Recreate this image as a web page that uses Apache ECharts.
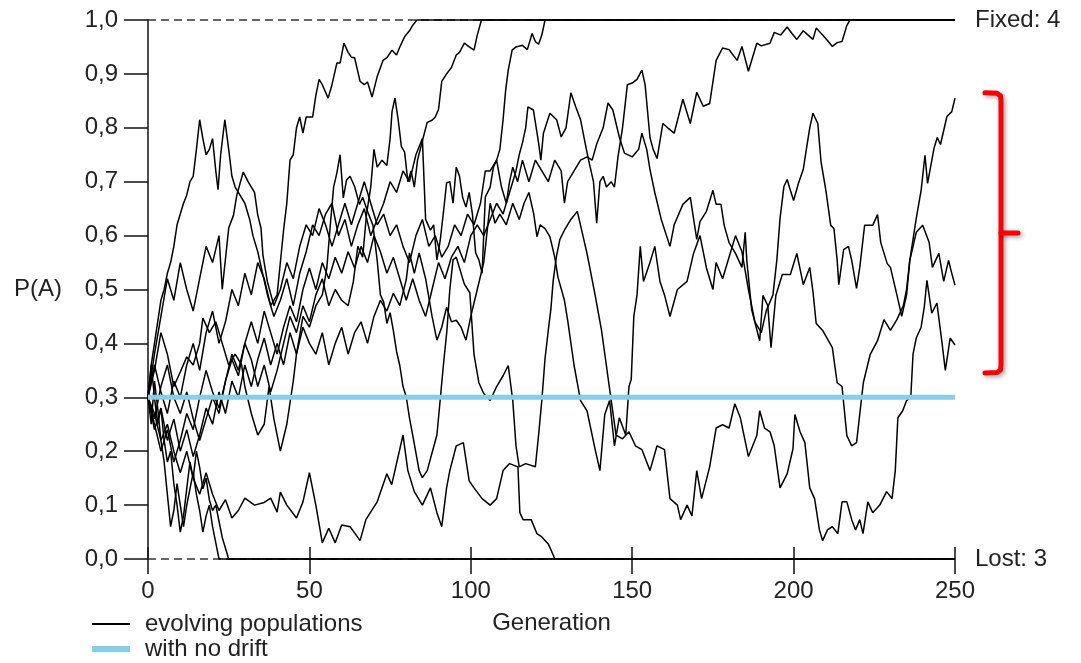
<!DOCTYPE html>
<html><head><meta charset="utf-8">
<script src="https://cdn.jsdelivr.net/npm/echarts@6/dist/echarts.min.js"></script>
<style>html,body{margin:0;padding:0;background:#fff}#c{width:1081px;height:663px}</style>
</head><body><div id="c"></div>
<script>
// ---- data: [generation, P(A)] ----
const popFixed1 = [[0,0.30],[2,0.36],[4,0.31],[6,0.27],[8,0.33],[10,0.30],[12,0.36],[14,0.40],[16,0.35],[18,0.42],[20,0.46],[22,0.40],[24,0.44],[26,0.50],[28,0.47],[30,0.53],[32,0.49],[34,0.55],[36,0.52],[38,0.47],[40,0.49],[41,0.55],[42,0.61],[43,0.66],[44,0.74],[45,0.75],[46,0.80],[47,0.82],[48,0.79],[49,0.82],[51,0.82],[52,0.86],[53,0.89],[54,0.88],[55.8,0.855],[57,0.88],[58.5,0.92],[59.5,0.92],[60.7,0.957],[62,0.94],[63,0.931],[64,0.93],[65.7,0.886],[67,0.88],[68,0.885],[69.4,0.857],[71,0.895],[72.8,0.925],[74,0.93],[75.6,0.944],[77,0.935],[78,0.95],[79.6,0.970],[81,0.98],[82,0.99],[83.3,1.0],[250,1.0]];
const popFixed2 = [[0,0.30],[2,0.25],[4,0.20],[6,0.24],[8,0.18],[10,0.22],[12,0.27],[14,0.24],[16,0.30],[18,0.35],[20,0.31],[22,0.28],[24,0.33],[26,0.38],[28,0.35],[30,0.40],[32,0.37],[34,0.32],[36,0.36],[38,0.31],[40,0.35],[42,0.40],[44,0.45],[46,0.42],[48,0.47],[50,0.44],[52,0.49],[54,0.52],[56,0.47],[58,0.50],[60,0.48],[62,0.47],[63.6,0.514],[65,0.58],[66.5,0.56],[67.7,0.64],[69,0.69],[70,0.76],[71,0.727],[72.5,0.74],[74,0.73],[75,0.78],[75.6,0.83],[76.5,0.855],[77.5,0.815],[78.5,0.765],[79.5,0.755],[80.5,0.70],[81.5,0.72],[82.5,0.69],[83.5,0.74],[85,0.776],[86.5,0.81],[88,0.814],[89,0.82],[90,0.834],[91,0.886],[92.5,0.90],[94,0.912],[95.5,0.935],[96.5,0.94],[98,0.957],[99.5,0.95],[101,0.944],[102,0.972],[103.3,1.0],[250,1.0]];
const popFixed3 = [[0,0.30],[1,0.36],[2,0.40],[3,0.44],[4,0.48],[5,0.50],[6,0.53],[7,0.55],[8,0.58],[9,0.62],[10,0.64],[11,0.66],[12,0.675],[13,0.70],[14,0.71],[15,0.76],[16,0.815],[17,0.78],[18,0.75],[19,0.76],[20,0.78],[21,0.72],[21.7,0.685],[22.5,0.75],[23.8,0.815],[25,0.76],[26,0.71],[27,0.69],[28.5,0.675],[30,0.66],[31.5,0.63],[32.5,0.60],[34,0.57],[35.5,0.53],[37,0.49],[39,0.45],[41,0.48],[43,0.52],[45,0.47],[47,0.53],[49,0.57],[51,0.62],[53,0.60],[55,0.64],[57,0.66],[59,0.60],[61,0.63],[63,0.58],[65,0.62],[67,0.65],[69,0.60],[71,0.63],[73,0.66],[75,0.70],[77,0.68],[79,0.72],[81,0.70],[83,0.75],[85,0.78],[86,0.63],[87.5,0.61],[88.5,0.62],[89.5,0.555],[90.5,0.59],[91.5,0.642],[92.5,0.698],[93.5,0.70],[94.5,0.66],[95.5,0.727],[96.5,0.71],[97.5,0.67],[98.5,0.653],[99.5,0.68],[100.5,0.64],[101.5,0.568],[102.5,0.555],[103.5,0.53],[104.5,0.672],[106,0.69],[107,0.727],[108,0.74],[109,0.76],[110,0.815],[110.8,0.87],[111.6,0.907],[112.8,0.944],[114,0.95],[116,0.953],[117.5,0.945],[119,0.975],[120,0.96],[121,0.955],[122,0.972],[123,1.0],[250,1.0]];
const popFixed4 = [[0,0.30],[2,0.26],[4,0.32],[6,0.36],[8,0.30],[10,0.27],[12,0.31],[14,0.26],[16,0.22],[18,0.26],[20,0.30],[22,0.27],[24,0.33],[26,0.37],[28,0.34],[30,0.40],[32,0.44],[34,0.40],[36,0.46],[38,0.42],[40,0.38],[42,0.43],[44,0.47],[46,0.44],[48,0.50],[50,0.54],[52,0.50],[54,0.55],[56,0.52],[58,0.56],[60,0.53],[62,0.57],[64,0.54],[66,0.58],[68,0.55],[70,0.60],[72,0.57],[74,0.53],[76,0.56],[78,0.52],[80,0.48],[82,0.52],[84,0.48],[86,0.45],[88,0.50],[90,0.55],[92,0.52],[94,0.56],[96,0.58],[98,0.55],[100,0.60],[102,0.62],[104,0.60],[106,0.63],[108,0.66],[110,0.64],[112,0.68],[114,0.72],[115,0.75],[116,0.772],[117,0.80],[117.7,0.839],[119.4,0.833],[121,0.772],[121.7,0.74],[122.5,0.79],[124.5,0.827],[126.6,0.815],[128,0.783],[129.5,0.80],[131,0.865],[132.5,0.839],[134,0.815],[135.4,0.772],[136.5,0.74],[138,0.70],[139,0.623],[140,0.70],[141,0.71],[142,0.69],[143.5,0.70],[144.5,0.69],[145.6,0.746],[147,0.80],[148.5,0.88],[150,0.883],[151.5,0.89],[153,0.907],[154,0.88],[155.5,0.782],[156.5,0.76],[157.7,0.743],[159.5,0.808],[161,0.80],[163,0.79],[165.7,0.853],[168,0.808],[170,0.866],[172,0.84],[174,0.845],[176,0.925],[178,0.948],[180,0.945],[182.5,0.925],[184,0.951],[186,0.905],[188.6,0.957],[190,0.952],[192.7,0.957],[194,0.977],[196,0.972],[198,0.987],[199.5,0.975],[201,0.964],[203,0.98],[204.5,0.972],[206,0.964],[207,0.985],[209,0.972],[210.5,0.962],[212,0.951],[213.5,0.958],[215,0.96],[216.5,0.99],[217.5,1.0],[250,1.0]];
const popLost1 = [[0,0.30],[1,0.25],[2,0.33],[3,0.28],[4,0.22],[5,0.18],[6,0.12],[7,0.06],[8,0.09],[9,0.14],[10,0.10],[11,0.06],[12,0.10],[13,0.13],[14,0.16],[15,0.12],[16,0.09],[17,0.05],[18,0.08],[19,0.10],[20,0.06],[21,0.03],[22,0],[250,0]];
const popLost2 = [[0,0.30],[1,0.36],[2,0.30],[3,0.25],[4,0.28],[5,0.22],[6,0.18],[7,0.20],[8,0.14],[9,0.10],[10,0.05],[11,0.08],[12,0.13],[13,0.18],[14,0.15],[15,0.20],[16,0.17],[17,0.13],[18,0.15],[19,0.11],[20,0.09],[21,0.10],[22,0.07],[23,0.04],[24,0.02],[25,0],[250,0]];
const popLost3 = [[0,0.30],[2,0.27],[4,0.22],[6,0.25],[8,0.20],[10,0.16],[12,0.20],[14,0.15],[16,0.12],[18,0.16],[20,0.12],[22,0.09],[24,0.11],[26,0.076],[28,0.09],[30,0.113],[33,0.10],[36,0.105],[38,0.113],[40,0.087],[41,0.124],[43,0.10],[46,0.076],[48,0.106],[50,0.16],[52,0.10],[54,0.03],[56,0.057],[58,0.03],[60,0.063],[62.6,0.06],[65.7,0.034],[67.5,0.073],[71,0.106],[74,0.158],[75.5,0.138],[79,0.23],[80.5,0.164],[82.5,0.125],[85,0.10],[87.5,0.132],[89.5,0.086],[91,0.06],[92.5,0.132],[93.5,0.164],[95.5,0.21],[97.7,0.216],[99.5,0.145],[101,0.132],[103.5,0.112],[106,0.10],[108,0.112],[110,0.164],[112,0.177],[114.6,0.171],[115.2,0.086],[116.2,0.073],[118.7,0.073],[120.5,0.047],[122,0.041],[124,0.028],[125.5,0.008],[126,0],[250,0]];
const popEnd40 = [[0,0.30],[2,0.24],[4,0.28],[6,0.22],[8,0.26],[10,0.20],[12,0.24],[14,0.19],[16,0.23],[18,0.28],[20,0.25],[22,0.31],[24,0.27],[26,0.33],[28,0.30],[30,0.36],[32,0.32],[34,0.37],[36,0.41],[38,0.36],[40,0.40],[42,0.36],[44,0.42],[46,0.38],[48,0.45],[50,0.43],[52,0.47],[54,0.49],[55.4,0.54],[56.4,0.614],[57.5,0.69],[58.5,0.716],[59.5,0.75],[60.5,0.67],[61.5,0.703],[62.6,0.71],[64,0.691],[65.5,0.658],[66.5,0.671],[68,0.645],[69.7,0.619],[71,0.554],[72,0.49],[73,0.477],[74,0.437],[75,0.457],[76,0.424],[77,0.385],[78,0.359],[79,0.32],[80,0.301],[81,0.262],[82,0.23],[83,0.197],[84,0.164],[85,0.151],[86.5,0.164],[88,0.197],[89.5,0.23],[90.5,0.294],[91.5,0.359],[92.6,0.424],[93.5,0.50],[94.5,0.555],[95.5,0.56],[96.5,0.54],[98,0.51],[99.7,0.494],[101,0.379],[102.5,0.327],[104,0.307],[106,0.294],[108,0.32],[110,0.34],[111.6,0.359],[113,0.294],[114,0.21],[115,0.171],[117,0.177],[120,0.171],[121,0.23],[122,0.294],[123,0.372],[124,0.424],[124.8,0.463],[125.5,0.515],[126.5,0.56],[127.6,0.593],[129,0.61],[131,0.63],[133,0.645],[134.5,0.606],[136,0.567],[138.5,0.49],[140.5,0.424],[142,0.359],[143.5,0.294],[145,0.23],[147,0.223],[149,0.236],[151,0.21],[153,0.203],[155.5,0.164],[157.7,0.21],[160,0.203],[161.7,0.112],[164,0.1],[165,0.073],[167,0.1],[168.5,0.08],[170,0.164],[171.5,0.112],[174,0.171],[176,0.243],[178,0.249],[180,0.243],[181.8,0.288],[183.5,0.262],[186,0.19],[188.6,0.229],[189.5,0.275],[191,0.243],[192.7,0.236],[194,0.21],[195.8,0.132],[198,0.158],[199.8,0.204],[200.4,0.268],[202,0.236],[203.5,0.216],[205,0.132],[206.5,0.112],[208,0.054],[209,0.034],[210.5,0.054],[212,0.06],[213.7,0.047],[215,0.106],[216.5,0.106],[218,0.073],[219.2,0.054],[220.5,0.073],[221.5,0.047],[223,0.106],[224.5,0.086],[226.7,0.1],[228.8,0.125],[230.5,0.112],[231.5,0.164],[232.3,0.262],[233.8,0.275],[235,0.294],[236.3,0.30],[237,0.38],[238,0.41],[239.5,0.43],[240.5,0.468],[241.3,0.517],[242.8,0.456],[244.4,0.475],[246,0.40],[247,0.35],[248.5,0.41],[250,0.397]];
const popEnd51 = [[0,0.30],[2,0.35],[4,0.42],[6,0.38],[8,0.32],[10,0.347],[12,0.375],[14,0.36],[16,0.40],[17,0.447],[19,0.42],[21,0.44],[23,0.40],[25,0.36],[27,0.38],[29,0.36],[30,0.32],[32,0.27],[34,0.23],[36,0.25],[37.5,0.32],[39,0.26],[41,0.20],[43,0.25],[45,0.33],[46,0.38],[48,0.43],[50,0.40],[52,0.38],[54,0.42],[56,0.36],[58,0.40],[60,0.43],[62,0.38],[64,0.42],[66,0.44],[68,0.40],[70,0.45],[72,0.48],[74,0.46],[76,0.493],[78,0.47],[80,0.518],[81,0.568],[82.5,0.53],[84,0.568],[86,0.52],[88,0.45],[89.5,0.406],[91,0.43],[92.5,0.467],[94,0.44],[95.5,0.443],[97,0.43],[98.5,0.406],[100,0.45],[102,0.50],[104,0.55],[106,0.66],[107.5,0.623],[109,0.64],[111,0.62],[113,0.66],[115,0.63],[116.5,0.66],[118,0.68],[119.5,0.64],[120.5,0.598],[121.5,0.62],[123,0.613],[124.5,0.598],[126,0.56],[127,0.523],[129,0.48],[130,0.443],[132,0.359],[134,0.294],[136,0.275],[138.5,0.204],[140,0.164],[141.5,0.268],[143,0.294],[144.5,0.21],[146,0.262],[148,0.23],[149,0.32],[149.7,0.333],[150.5,0.45],[151.5,0.49],[152.5,0.58],[153.5,0.515],[155.5,0.55],[157,0.58],[158.6,0.515],[160,0.49],[161.7,0.45],[164,0.50],[167,0.515],[169,0.567],[171,0.60],[173,0.54],[175,0.50],[176,0.55],[178,0.52],[180,0.56],[182,0.60],[184,0.57],[186,0.50],[188,0.44],[190,0.42],[191.5,0.46],[193.6,0.49],[194.8,0.554],[195.8,0.632],[197,0.691],[198,0.704],[199,0.684],[200,0.665],[201.5,0.697],[203,0.723],[204,0.762],[205,0.80],[206,0.827],[207.5,0.808],[208.5,0.737],[210,0.684],[211.5,0.619],[212.5,0.613],[213.5,0.554],[214,0.509],[215.5,0.574],[217,0.58],[218,0.554],[219.5,0.502],[220.5,0.541],[222,0.619],[224.5,0.619],[226,0.639],[227,0.587],[229,0.548],[230,0.541],[232,0.49],[233.5,0.45],[235,0.49],[236,0.554],[238,0.606],[240,0.619],[242,0.587],[243,0.541],[245,0.567],[246.5,0.515],[248,0.554],[249,0.53],[250,0.508]];
const popEnd85 = [[0,0.30],[2,0.38],[4,0.45],[6,0.52],[8,0.48],[10,0.55],[12,0.50],[14,0.46],[16,0.52],[18,0.58],[20,0.55],[22,0.60],[23,0.50],[25,0.614],[26.5,0.638],[27.5,0.675],[29.5,0.718],[31,0.70],[33,0.68],[34,0.638],[35,0.614],[35.6,0.564],[37,0.514],[39,0.47],[41,0.50],[43,0.55],[45,0.52],[47,0.58],[49,0.62],[51,0.60],[53,0.65],[55,0.62],[57,0.58],[59,0.62],[61,0.66],[63,0.62],[65,0.66],[67,0.70],[69,0.66],[71,0.62],[73,0.64],[75,0.60],[77,0.62],[79,0.58],[81,0.55],[83,0.60],[85,0.63],[87,0.58],[89,0.60],[91,0.56],[93,0.58],[95,0.62],[97,0.60],[99,0.64],[101,0.62],[103,0.66],[104.5,0.72],[106,0.72],[108,0.74],[109.5,0.69],[111,0.66],[112,0.70],[113,0.727],[114.5,0.70],[116,0.74],[118,0.70],[120,0.74],[122,0.72],[124,0.70],[126,0.74],[128,0.72],[129,0.66],[130,0.70],[132,0.72],[134,0.74],[136,0.746],[137.6,0.74],[139,0.77],[141,0.80],[142.5,0.846],[144,0.833],[146,0.783],[147.6,0.753],[150,0.746],[152,0.76],[153,0.79],[154.5,0.76],[155.5,0.723],[157,0.68],[159,0.63],[161.7,0.58],[163,0.62],[165.7,0.658],[168,0.671],[170,0.593],[171,0.626],[173,0.645],[175,0.684],[176,0.658],[177.5,0.658],[178.5,0.619],[180,0.587],[182,0.567],[184,0.541],[185,0.606],[185.5,0.554],[187,0.463],[189.5,0.405],[190.5,0.489],[192,0.47],[193,0.392],[194.5,0.489],[196.5,0.528],[199,0.528],[201,0.567],[203,0.509],[205,0.541],[206,0.496],[207,0.437],[209,0.424],[212,0.392],[213.5,0.327],[215,0.32],[216.5,0.229],[218,0.21],[219.5,0.216],[221.6,0.327],[223.7,0.379],[226,0.405],[228,0.444],[230,0.424],[232,0.444],[234,0.47],[235,0.50],[236,0.554],[237,0.593],[238,0.632],[239.5,0.684],[240.7,0.749],[241.5,0.697],[243.5,0.762],[244.5,0.782],[245.5,0.769],[247.5,0.821],[249,0.83],[250,0.855]];
const noDrift = [[0,0.3],[250,0.3]];
const boundaryLost = [[0,0],[250,0]];
const boundaryFixed = [[0,1],[250,1]];
const xRange = [0, 250];
const xStep = 50;
const yStep = 0.1;
const bracketSpan = [0.865, 0.605, 0.345];   // top, middle, bottom of the red bracket (P(A))

const populations = [popFixed1, popFixed2, popFixed3, popFixed4, popLost1, popLost2, popLost3, popEnd40, popEnd51, popEnd85];
const nFixed = populations.filter(p => p[p.length-1][1] === 1).length;
const nLost = populations.filter(p => p[p.length-1][1] === 0).length;

const FONT = '"Liberation Sans", Arial, sans-serif';
const TXT = '#222';
const chart = echarts.init(document.getElementById('c'), null, {renderer: 'canvas'});

const series = [
  {name:'boundary', type:'line', data: boundaryLost, symbol:'none', clip:false, silent:true, z:1,
   lineStyle:{color:'#333', width:1.5, type:[8,5]}},
  {name:'boundary2', type:'line', data: boundaryFixed, symbol:'none', clip:false, silent:true, z:1,
   lineStyle:{color:'#333', width:1.5, type:[8,5]}}
];
populations.forEach(p => series.push({
  name:'evolving populations', type:'line', data:p, symbol:'none', showSymbol:false, clip:false, silent:true, z:2,
  lineStyle:{color:'#000', width:1.5}, itemStyle:{color:'#000'}
}));
series.push({name:'with no drift', type:'line', data:noDrift, symbol:'none', clip:false, silent:true, z:3,
  lineStyle:{color:'#87CEEB', width:5}, itemStyle:{color:'#87CEEB'}});

const option = {
  animation:false,
  backgroundColor:'#fff',
  grid:{left:148, right:126, top:20, bottom:104, containLabel:false},
  xAxis:[
    {type:'value', min:xRange[0], max:xRange[1], interval:xStep,
     name:'Generation', nameLocation:'middle', nameGap:52,
     nameTextStyle:{fontFamily:FONT, fontSize:24, color:TXT},
     axisLine:{show:false, onZero:false},
     axisTick:{show:true, inside:false, length:15, lineStyle:{color:'#111', width:1.5}},
     axisLabel:{margin:20, fontFamily:FONT, fontSize:24, color:TXT},
     splitLine:{show:false}},
    {type:'value', min:xRange[0], max:xRange[1], interval:xStep, position:'bottom',
     axisLine:{show:false, onZero:false},
     axisTick:{show:true, inside:true, length:12, lineStyle:{color:'#111', width:1.5}},
     axisLabel:{show:false}, splitLine:{show:false}}
  ],
  yAxis:{type:'value', min:0, max:1, interval:yStep,
    name:'P(A)', nameLocation:'middle', nameRotate:0, nameGap:86,
    nameTextStyle:{fontFamily:FONT, fontSize:24, color:TXT},
    axisLine:{show:true, lineStyle:{color:'#111', width:1.5}},
    axisTick:{show:true, length:24, lineStyle:{color:'#111', width:1.5}},
    axisLabel:{margin:30, fontFamily:FONT, fontSize:24, color:TXT,
      formatter: v => v.toFixed(1).replace('.', ',')},
    splitLine:{show:false}},
  legend:{orient:'vertical', left:89, top:612, height:60, padding:0, itemWidth:38, itemHeight:24, itemGap:1,
    selectedMode:false, itemStyle:{opacity:0},
    data:[{name:'evolving populations', itemStyle:{opacity:0}, lineStyle:{width:2, color:'#000'}},
          {name:'with no drift', itemStyle:{opacity:0}, lineStyle:{width:6, color:'#87CEEB'}}],
    textStyle:{fontFamily:FONT, fontSize:24, color:TXT, padding:[0,0,0,10]}},
  series: series
};
chart.setOption(option);

const yTop = chart.convertToPixel({yAxisIndex:0}, 1);
const yBot = chart.convertToPixel({yAxisIndex:0}, 0);
const xEnd = chart.convertToPixel({xAxisIndex:0}, xRange[1]);
const bT = chart.convertToPixel({yAxisIndex:0}, bracketSpan[0]);
const bM = chart.convertToPixel({yAxisIndex:0}, bracketSpan[1]);
const bB = chart.convertToPixel({yAxisIndex:0}, bracketSpan[2]);
const bx0 = xEnd + 30, bx1 = xEnd + 46, bx2 = xEnd + 63;
const redStyle = {stroke:'#ff0000', lineWidth:5, fill:null, lineJoin:'round', lineCap:'round',
  shadowBlur:4, shadowColor:'rgba(0,0,0,0.35)', shadowOffsetX:2, shadowOffsetY:2};
chart.setOption({graphic:[
  {type:'text', x:xEnd + 20, y:yTop, style:{text:'Fixed: ' + nFixed, fontFamily:FONT, fontSize:24, fill:TXT, verticalAlign:'middle', align:'left'}},
  {type:'text', x:xEnd + 20, y:yBot, style:{text:'Lost: ' + nLost, fontFamily:FONT, fontSize:24, fill:TXT, verticalAlign:'middle', align:'left'}},
  {type:'polyline', shape:{points:[[bx0,bT],[bx1-4,bT+0.5],[bx1-0.5,bT+3],[bx1,bT+8],[bx1,bB-8],[bx1-0.5,bB-3],[bx1-4,bB-0.5],[bx0,bB]]}, style:redStyle},
  {type:'polyline', shape:{points:[[bx1,bM],[bx2,bM]]}, style:redStyle}
]});
</script>
</body></html>
